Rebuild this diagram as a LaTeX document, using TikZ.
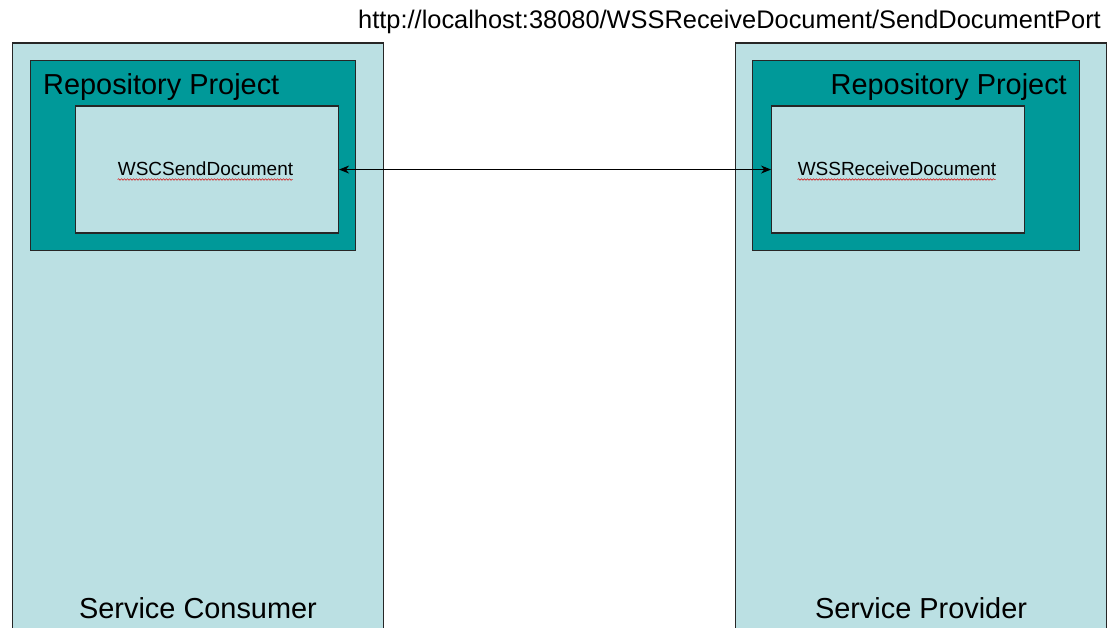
\documentclass[tikz,border=0pt]{standalone}
\usepackage{fontspec}
\setmainfont{Liberation Sans}
\usetikzlibrary{arrows.meta,decorations.pathmorphing}
\definecolor{paleblue}{RGB}{187,224,227}
\definecolor{teal}{RGB}{0,153,153}
\tikzset{
  side/.style={draw=black!85, line width=1.1pt, fill=paleblue, inner sep=0pt, anchor=north west},
  repo/.style={draw=black!85, line width=1.1pt, fill=teal, inner sep=0pt, anchor=north west},
  svc/.style={draw=black!85, line width=1.1pt, fill=paleblue, inner sep=0pt, anchor=north west},
  bigtxt/.style={font=\fontsize{28.9}{32}\selectfont, inner sep=0pt},
  urltxt/.style={font=\fontsize{25.4}{28}\selectfont, inner sep=0pt, anchor=base west},
  smalltxt/.style={font=\fontsize{19}{22}\selectfont, inner sep=0pt, anchor=base},
  squiggle/.style={draw=red!85!black, line width=0.5pt, decorate, decoration={snake, segment length=3pt, amplitude=0.8pt}},
  link/.style={draw=black, line width=0.9pt, {Stealth[length=10pt,width=8pt]}-{Stealth[length=10pt,width=8pt]}}
}
\begin{document}
\begin{tikzpicture}[x=1pt,y=-1pt]
\useasboundingbox (0,0) rectangle (1109,628);
\clip (0,0) rectangle (1109,628);
\fill[white] (0,0) rectangle (1109,628);
% outer panels
\node[side, minimum width=371pt, minimum height=620pt] (consumer) at (11.5,42.5) {};
\node[side, minimum width=371pt, minimum height=620pt] (provider) at (735,42.5) {};
% repository projects
\node[repo, minimum width=325pt, minimum height=190pt] (repoL) at (30,60) {};
\node[repo, minimum width=327pt, minimum height=190pt] (repoR) at (752,60) {};
% services
\node[svc, minimum width=263pt, minimum height=127pt] (sendbox) at (75,105.5) {};
\node[svc, minimum width=253pt, minimum height=127pt] (recvbox) at (771,105.5) {};
% texts
\node[bigtxt, anchor=base west] (repoLt) at (43,95) {Repository Project};
\node[bigtxt, anchor=base east] (repoRt) at (1067,95) {Repository Project};
\node[smalltxt] (sendt) at (205.5,176) {WSCSendDocument};
\node[smalltxt] (recvt) at (897,176) {WSSReceiveDocument};
\node[bigtxt, anchor=base] (consumert) at (198,618) {Service Consumer};
\node[bigtxt, anchor=base] (providert) at (921,618) {Service Provider};
\node[urltxt] (url) at (358,28.5) {http://localhost:38080/WSSReceiveDocument/SendDocumentPort};
% spell-check squiggles
\path[squiggle] (sendt.base west) ++(0,3.5) -- ++(175,0);
\path[squiggle] (recvt.base west) ++(0,3.5) -- ++(198,0);
% connector
\draw[link] (sendbox.east) -- (recvbox.west);
\end{tikzpicture}
\end{document}
